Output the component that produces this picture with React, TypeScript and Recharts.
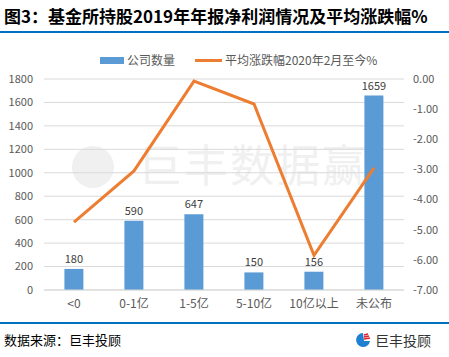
import {
  Bar,
  CartesianGrid,
  ComposedChart,
  LabelList,
  Line,
  XAxis,
  YAxis,
} from "recharts";

// 分类（净利润区间）
const categories = ["<0", "0-1亿", "1-5亿", "5-10亿", "10亿以上", "未公布"];
// 公司数量
const companyCounts = [180, 590, 647, 150, 156, 1659];
// 平均涨跌幅 2020年2月至今 %
const avgChange = [-4.75, -3.05, -0.07, -0.83, -5.85, -2.95];

const leftTicks = [0, 200, 400, 600, 800, 1000, 1200, 1400, 1600, 1800];
const rightTicks = [-7, -6, -5, -4, -3, -2, -1, 0];

const data = categories.map((name, i) => ({
  name,
  count: companyCounts[i],
  change: avgChange[i],
}));

const FONT = '"Noto Sans CJK SC", "Noto Sans", sans-serif';
const BLUE = "#5b9bd5";
const ORANGE = "#ed7d31";

function LegendBox() {
  return (
    <div style={{ position: "absolute", left: 0, top: 52, width: 449, height: 16, fontSize: 12, color: "#595959" }}>
      <div style={{ position: "absolute", left: 100, top: 5, width: 24, height: 7, background: BLUE }} />
      <div style={{ position: "absolute", left: 127, top: 0, lineHeight: "16px" }}>公司数量</div>
      <div style={{ position: "absolute", left: 195, top: 7, width: 27, height: 3, background: ORANGE }} />
      <div style={{ position: "absolute", left: 225, top: 0, lineHeight: "16px" }}>平均涨跌幅2020年2月至今%</div>
    </div>
  );
}

function Logo() {
  return (
    <svg width="16" height="16" viewBox="0 0 16 16">
      <path d="M8 1 A7 7 0 1 0 15 9 L9 9 Z" fill="#1f7fd0" />
      <path d="M9 3 L13 2 M9 5 L14 4 M9 7 L15 6" stroke="#e0202c" strokeWidth="1.3" />
    </svg>
  );
}

export default function App() {
  return (
    <div
      style={{
        position: "absolute",
        left: 0,
        top: 0,
        width: 449,
        height: 357,
        background: "#fff",
        fontFamily: FONT,
        overflow: "hidden",
      }}
    >
      <div
        style={{
          position: "absolute",
          left: 4,
          top: 4,
          fontSize: 17,
          fontWeight: 700,
          color: "#000",
          lineHeight: "24px",
          whiteSpace: "nowrap",
        }}
      >
        图3：基金所持股2019年年报净利润情况及平均涨跌幅%
      </div>
      <div style={{ position: "absolute", left: 0, top: 31, width: 449, height: 2, background: "#0070c0" }} />

      {/* 水印 */}
      <div
        style={{
          position: "absolute",
          left: 72,
          top: 146,
          width: 42,
          height: 42,
          borderRadius: 21,
          background: "#f0f0f0",
        }}
      />
      <div
        style={{
          position: "absolute",
          left: 138,
          top: 141,
          fontSize: 44,
          color: "#f0f0f0",
          lineHeight: "44px",
          whiteSpace: "nowrap",
          letterSpacing: 2,
        }}
      >
        巨丰数据赢
      </div>

      <LegendBox />

      <div style={{ position: "absolute", left: 0, top: 0 }}>
        <ComposedChart
          width={449}
          height={357}
          data={data}
          margin={{ top: 79, right: 0, left: 4, bottom: 30 }}
          barCategoryGap="34%"
        >
          <CartesianGrid stroke="#d9d9d9" vertical={false} yAxisId="left" />
          <XAxis
            dataKey="name"
            axisLine={{ stroke: "#d9d9d9" }}
            tickLine={false}
            tickMargin={3}
            height={37}
            tick={{ fontSize: 12, fill: "#595959", fontFamily: FONT }}
            interval={0}
          />
          <YAxis
            yAxisId="left"
            domain={[0, 1800]}
            ticks={leftTicks}
            width={40}
            axisLine={false}
            tickLine={false}
            tickMargin={5}
            tick={{ fontSize: 11, fill: "#595959", fontFamily: FONT }}
          />
          <YAxis
            yAxisId="right"
            orientation="right"
            domain={[-7, 0]}
            ticks={rightTicks}
            width={45}
            axisLine={false}
            tickLine={false}
            tickMargin={3}
            tickFormatter={(v: number) => v.toFixed(2)}
            tick={{ fontSize: 11, fill: "#595959", fontFamily: FONT }}
          />
          <Bar yAxisId="left" dataKey="count" fill={BLUE} isAnimationActive={false}>
            <LabelList
              dataKey="count"
              position="top"
              offset={6}
              style={{ fontSize: 11, fill: "#404040", fontFamily: FONT }}
            />
          </Bar>
          <Line
            yAxisId="right"
            dataKey="change"
            type="linear"
            stroke={ORANGE}
            strokeWidth={3}
            dot={false}
            isAnimationActive={false}
          />
        </ComposedChart>
      </div>

      <div style={{ position: "absolute", left: 0, top: 322, width: 449, height: 2, background: "#0070c0" }} />
      <div
        style={{
          position: "absolute",
          left: 4,
          top: 330,
          fontSize: 13,
          color: "#000",
          lineHeight: "20px",
        }}
      >
        数据来源：巨丰投顾
      </div>
      <div style={{ position: "absolute", left: 355, top: 331, display: "flex", alignItems: "center", gap: 4 }}>
        <Logo />
        <span style={{ fontSize: 14, color: "#333", lineHeight: "18px" }}>巨丰投顾</span>
      </div>
    </div>
  );
}
